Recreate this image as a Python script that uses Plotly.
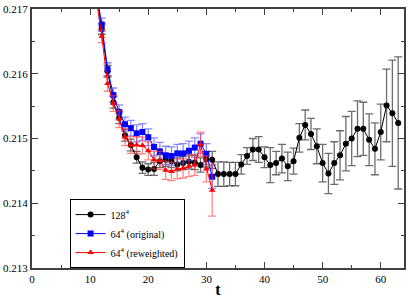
import plotly.graph_objects as go

# ---- data ----
t_128 = list(range(11, 64))
v_128 = [0.2173, 0.21669, 0.21604, 0.21556, 0.21532, 0.21505, 0.21490, 0.21471, 0.21455, 0.21452,
         0.21453, 0.21465, 0.21467, 0.21465, 0.21460, 0.21462, 0.21464, 0.21463, 0.21459, 0.21468,
         0.21467, 0.21445, 0.21445, 0.21445, 0.21445, 0.21460, 0.21473, 0.21483, 0.21483, 0.21471,
         0.21459, 0.21462, 0.21469, 0.21457, 0.21465, 0.21501, 0.21521, 0.21507, 0.21488, 0.21462,
         0.21446, 0.21462, 0.21474, 0.21492, 0.21500, 0.21515, 0.21515, 0.21498, 0.21484, 0.21510,
         0.21551, 0.21539, 0.21524]
e_128 = [0.00008, 0.00008, 0.00009, 0.00009, 0.00009, 0.00009, 0.00009, 0.00009, 0.00009, 0.00009,
         0.00010, 0.00010, 0.00010, 0.00010, 0.00010, 0.00010, 0.00011, 0.00011, 0.00011, 0.00012,
         0.00013, 0.00019, 0.00019, 0.00018, 0.00018, 0.00015, 0.00013, 0.00017, 0.00020, 0.00016,
         0.00027, 0.00018, 0.00022, 0.00022, 0.00020, 0.00022, 0.00023, 0.00024, 0.00027, 0.00029,
         0.00031, 0.00033, 0.00038, 0.00042, 0.00042, 0.00043, 0.00041, 0.00040, 0.00040, 0.00043,
         0.00056, 0.00082, 0.00102]

t_64 = list(range(11, 32))
v_64_orig = [0.2173, 0.21676, 0.21607, 0.21567, 0.21541, 0.21522, 0.21516, 0.21508, 0.21510, 0.21502,
             0.21487, 0.21480, 0.21474, 0.21473, 0.21477, 0.21477, 0.21481, 0.21486, 0.21492, 0.21476,
             0.21441]
e_64_orig = [0.00010, 0.00010, 0.00010, 0.00011, 0.00011, 0.00011, 0.00012, 0.00013, 0.00013, 0.00013,
             0.00014, 0.00014, 0.00014, 0.00014, 0.00014, 0.00015, 0.00015, 0.00015, 0.00015, 0.00016,
             0.00018]
v_64_rew = [0.2172, 0.21658, 0.21585, 0.21554, 0.21530, 0.21502, 0.21490, 0.21490, 0.21489, 0.21481,
            0.21467, 0.21466, 0.21451, 0.21449, 0.21453, 0.21454, 0.21457, 0.21459, 0.21491, 0.21453,
            0.21420]
e_64_rew = [0.00010, 0.00010, 0.00012, 0.00012, 0.00013, 0.00013, 0.00013, 0.00013, 0.00013, 0.00014,
            0.00014, 0.00014, 0.00014, 0.00014, 0.00015, 0.00015, 0.00016, 0.00016, 0.00019, 0.00020,
            0.00040]

names = ["128<sup>4</sup>", "64<sup>4</sup> (original)", "64<sup>4</sup> (reweighted)"]
x_ticks = [0, 10, 20, 30, 40, 50, 60]
y_ticks = [0.213, 0.214, 0.215, 0.216, 0.217]
y_tick_labels = ["0.213", "0.214", "0.215", "0.216", "0.217"]

SERIF = "Liberation Serif, serif"

fig = go.Figure()

fig.add_trace(go.Scatter(
    x=t_128, y=v_128, name=names[0], mode="lines+markers",
    line=dict(color="black", width=1),
    marker=dict(symbol="circle", size=6, color="black"),
    error_y=dict(type="data", array=e_128, visible=True, color="rgba(60,60,60,0.75)",
                 thickness=1.3, width=4),
))
fig.add_trace(go.Scatter(
    x=t_64, y=v_64_orig, name=names[1], mode="lines+markers",
    line=dict(color="blue", width=1),
    marker=dict(symbol="square", size=6, color="blue"),
    error_y=dict(type="data", array=e_64_orig, visible=True, color="rgba(60,60,255,0.6)",
                 thickness=1.3, width=4),
))
fig.add_trace(go.Scatter(
    x=t_64, y=v_64_rew, name=names[2], mode="lines+markers",
    line=dict(color="red", width=1),
    marker=dict(symbol="triangle-up", size=6, color="red"),
    error_y=dict(type="data", array=e_64_rew, visible=True, color="rgba(255,60,60,0.6)",
                 thickness=1.3, width=4),
))

axis_common = dict(
    showline=True, linecolor="#404040", linewidth=2, mirror="allticks",
    ticks="inside", ticklen=6, tickwidth=1.3, tickcolor="#404040",
    showgrid=False, zeroline=False, ticklabeloverflow="allow",
    tickfont=dict(family=SERIF, size=11, color="black"),
)

fig.update_xaxes(range=[0, 64], tickmode="array", tickvals=x_ticks,
                 minor=dict(ticks="inside", ticklen=3, dtick=5, tick0=0, tickcolor="#404040", showgrid=False),
                 title=dict(text="<b>t</b>", font=dict(family=SERIF, size=16, color="black"), standoff=0),
                 **axis_common)
fig.update_yaxes(range=[0.213, 0.217], tickmode="array", tickvals=y_ticks, ticktext=y_tick_labels,
                 minor=dict(ticks="inside", ticklen=3, dtick=0.0005, tick0=0.213, tickcolor="#404040", showgrid=False),
                 **axis_common)

fig.update_layout(
    width=409, height=299,
    margin=dict(l=30, r=3, t=5, b=31),
    paper_bgcolor="white", plot_bgcolor="white",
    font=dict(family=SERIF, size=11, color="black"),
    legend=dict(x=0.101, y=0.266, xanchor="left", yanchor="top",
                bordercolor="black", borderwidth=1, bgcolor="white",
                font=dict(family=SERIF, size=10), tracegroupgap=0, itemwidth=30),
    showlegend=True,
)

fig.write_html("out.html", config={"displayModeBar": False},
               post_script="document.body.style.margin='0';document.body.style.overflow='hidden';")
